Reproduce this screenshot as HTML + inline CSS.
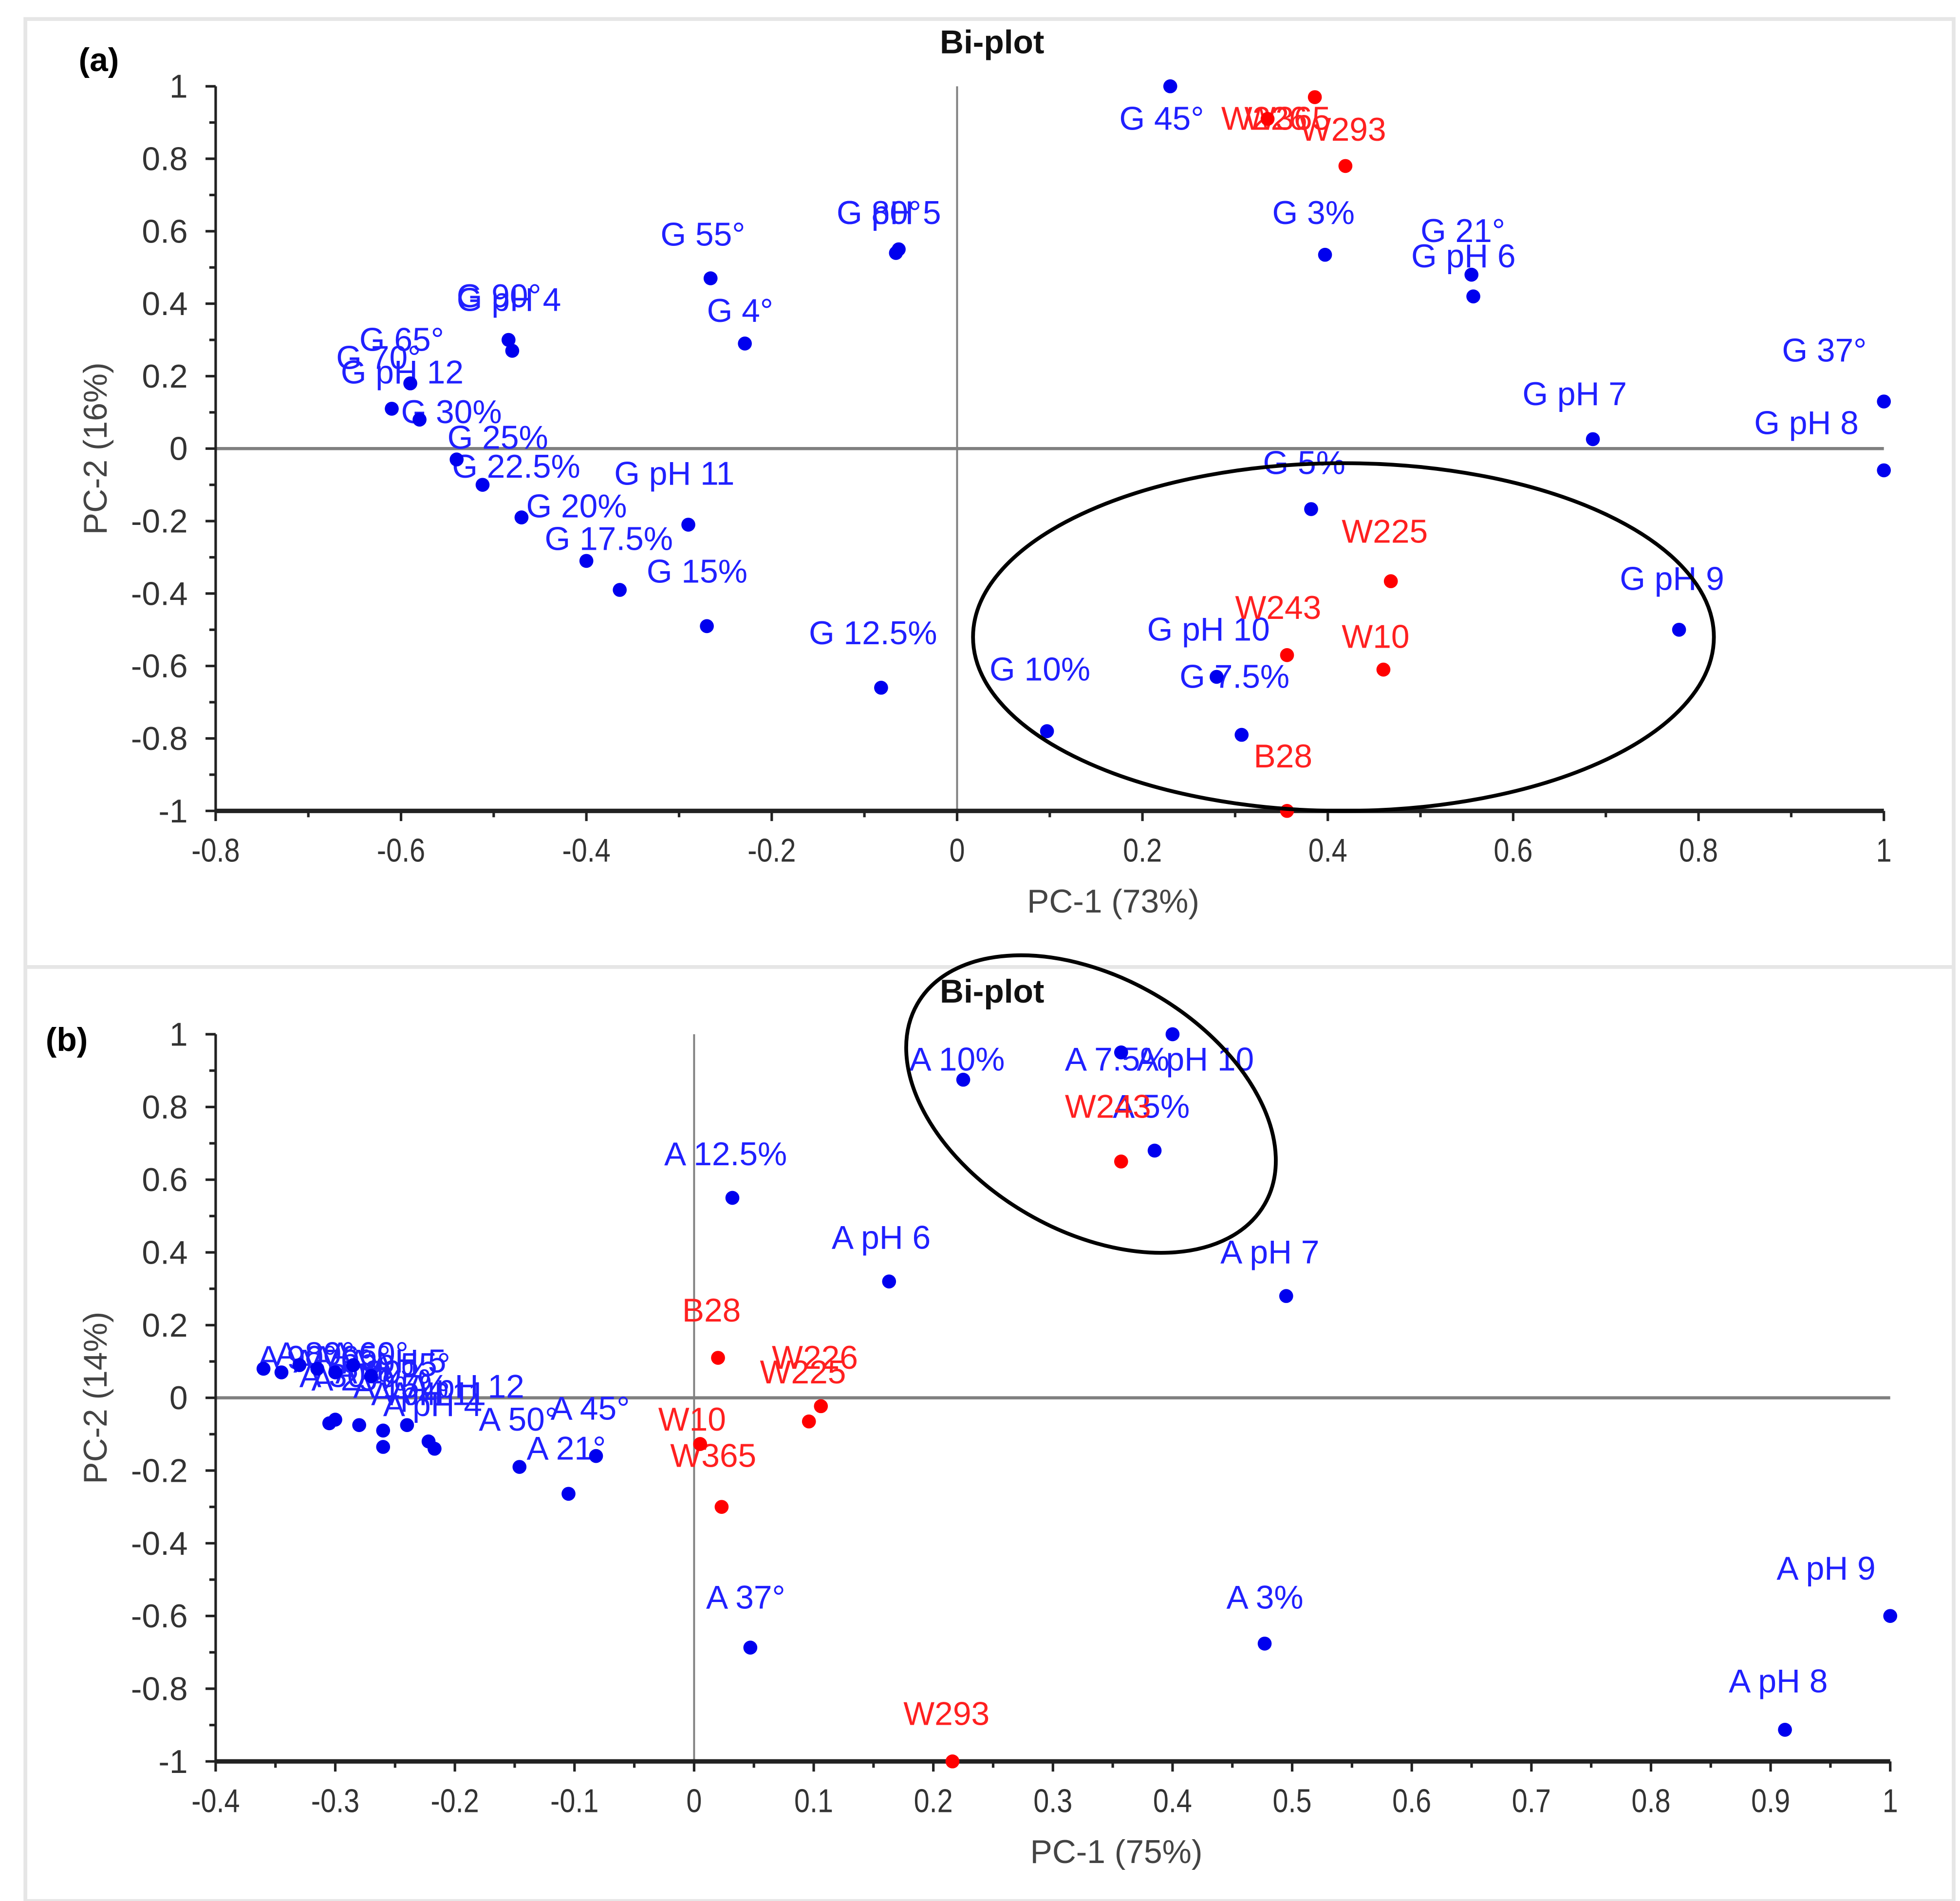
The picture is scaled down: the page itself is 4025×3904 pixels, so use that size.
<!DOCTYPE html>
<html><head><meta charset="utf-8"><style>
html,body{margin:0;padding:0;background:#fff;}
svg{display:block;}
text{font-family:"Liberation Sans",Arial,sans-serif;}
</style></head><body>
<svg id="fig" width="4025" height="3904" viewBox="0 0 1545 1498" preserveAspectRatio="none" xmlns="http://www.w3.org/2000/svg">
<rect x="0" y="0" width="1545" height="1498" fill="#fff"/>
<rect x="20" y="15" width="1520" height="1483" fill="none" stroke="#e6e6e6" stroke-width="3"/>
<line x1="20" y1="762" x2="1540" y2="762" stroke="#e6e6e6" stroke-width="3"/>
<g id="pa"></g>
<g id="pb"></g>
</svg>
<script>
// Panel (a) data
const aBlueX = [0.23,-0.063,-0.066,-0.266,-0.229,-0.484,-0.48,0.397,0.555,0.557,1.0,0.686,1.0,-0.61,-0.59,-0.58,-0.54,-0.512,-0.47,-0.29,-0.4,-0.364,-0.27,-0.082,0.382,0.779,0.28,0.307,0.097];
const aBlueY = [1.0,0.55,0.54,0.47,0.29,0.30,0.27,0.535,0.48,0.42,0.13,0.026,-0.06,0.11,0.18,0.08,-0.03,-0.1,-0.19,-0.21,-0.31,-0.39,-0.49,-0.66,-0.167,-0.5,-0.63,-0.79,-0.78];
const aRedX = [0.335,0.386,0.419,0.468,0.356,0.46,0.356];
const aRedY = [0.91,0.97,0.78,-0.366,-0.57,-0.61,-1.0];
const aBlueLabels = ["G 45°","G pH 5","G 80°","G 55°","G 4°","G 90°","G pH 4","G 3%","G 21°","G pH 6","G 37°","G pH 7","G pH 8","G 70°","G 65°","G pH 12","G 30%","G 25%","G 22.5%","G pH 11","G 20%","G 17.5%","G 15%","G 12.5%","G 5%","G pH 9","G pH 10","G 7.5%","G 10%"];
const aBlueLX = [0.175,-0.13,-0.13,-0.32,-0.27,-0.54,-0.54,0.34,0.50,0.49,0.89,0.61,0.86,-0.67,-0.645,-0.665,-0.6,-0.55,-0.545,-0.37,-0.465,-0.445,-0.335,-0.16,0.33,0.715,0.205,0.24,0.035];
const aBlueLY = [0.88,0.62,0.62,0.56,0.35,0.39,0.38,0.62,0.57,0.50,0.24,0.12,0.04,0.22,0.27,0.18,0.07,0.0,-0.08,-0.1,-0.19,-0.28,-0.37,-0.54,-0.07,-0.39,-0.53,-0.66,-0.64];
const aRedLabels = ["W226","W365","W293","W225","W243","W10","B28"];
const aRedLX = [0.285,0.31,0.37,0.415,0.3,0.415,0.32];
const aRedLY = [0.88,0.88,0.85,-0.26,-0.47,-0.55,-0.88];
const aXTicks = [-0.8,-0.6,-0.4,-0.2,0,0.2,0.4,0.6,0.8,1];
const aYTicks = [-1,-0.8,-0.6,-0.4,-0.2,0,0.2,0.4,0.6,0.8,1];
const aXTickLabels = ["-0.8","-0.6","-0.4","-0.2","0","0.2","0.4","0.6","0.8","1"];
const aYTickLabels = ["-1","-0.8","-0.6","-0.4","-0.2","0","0.2","0.4","0.6","0.8","1"];

// Panel (b) data
const bBlueX = [0.4,0.357,0.225,0.385,0.032,0.163,0.495,1.0,0.912,0.477,0.047,-0.105,-0.146,-0.082,-0.36,-0.345,-0.33,-0.315,-0.3,-0.285,-0.27,-0.3,-0.305,-0.28,-0.26,-0.26,-0.24,-0.222,-0.217];
const bBlueY = [1.0,0.95,0.875,0.68,0.55,0.32,0.28,-0.6,-0.913,-0.676,-0.687,-0.264,-0.19,-0.16,0.08,0.07,0.09,0.08,0.07,0.09,0.06,-0.06,-0.07,-0.075,-0.09,-0.135,-0.075,-0.12,-0.14];
const bRedX = [0.02,0.106,0.096,0.005,0.023,0.216,0.357];
const bRedY = [0.11,-0.023,-0.065,-0.127,-0.3,-1.0,0.65];
const bBlueLabels = ["A pH 10","A 7.5%","A 10%","A 5%","A 12.5%","A pH 6","A pH 7","A pH 9","A pH 8","A 3%","A 37°","A 21°","A 50°","A 45°","A 90°","A 80°","A 70°","A 65°","A 60°","A pH 5","A 55°","A 30%","A 25%","A 20%","A 15%","A pH 11","A pH 4","A 4°","A pH 12"];
const bBlueLX = [0.37,0.31,0.18,0.35,-0.025,0.115,0.44,0.905,0.865,0.445,0.01,-0.14,-0.18,-0.12,-0.365,-0.35,-0.335,-0.32,-0.305,-0.29,-0.27,-0.33,-0.32,-0.3,-0.285,-0.27,-0.26,-0.255,-0.24];
const bBlueLY = [0.9,0.9,0.9,0.77,0.64,0.41,0.37,-0.5,-0.81,-0.58,-0.58,-0.17,-0.09,-0.06,0.08,0.09,0.07,0.08,0.09,0.07,0.06,0.03,0.02,0.04,0.0,-0.02,-0.05,-0.02,0.0];
const bRedLabels = ["B28","W226","W225","W10","W365","W293","W243"];
const bRedLX = [-0.01,0.065,0.055,-0.03,-0.02,0.175,0.31];
const bRedLY = [0.21,0.08,0.04,-0.09,-0.19,-0.9,0.77];
const bXTicks = [-0.4,-0.3,-0.2,-0.1,0,0.1,0.2,0.3,0.4,0.5,0.6,0.7,0.8,0.9,1];
const bYTicks = [-1,-0.8,-0.6,-0.4,-0.2,0,0.2,0.4,0.6,0.8,1];
const bXTickLabels = ["-0.4","-0.3","-0.2","-0.1","0","0.1","0.2","0.3","0.4","0.5","0.6","0.7","0.8","0.9","1"];
const bYTickLabels = ["-1","-0.8","-0.6","-0.4","-0.2","0","0.2","0.4","0.6","0.8","1"];

const NS = "http://www.w3.org/2000/svg";
function mk(parent, tag, attrs, txt){
  const e = document.createElementNS(NS, tag);
  for (const k in attrs) e.setAttribute(k, attrs[k]);
  if (txt !== undefined) e.textContent = txt;
  parent.appendChild(e);
  return e;
}

function panel(g, cfg){
  const sx = v => cfg.x0 + (v - cfg.xmin) / (cfg.xmax - cfg.xmin) * (cfg.x1 - cfg.x0);
  const sy = v => cfg.y1 - (v - cfg.ymin) / (cfg.ymax - cfg.ymin) * (cfg.y1 - cfg.y0);
  // zero lines
  let e = mk(g, "line", {x1:sx(0), y1:cfg.y0, x2:sx(0), y2:cfg.y1, stroke:"#808080", "stroke-width":1.5});
  
  
  e = mk(g, "line", {x1:cfg.x0, y1:sy(0), x2:cfg.x1, y2:sy(0), stroke:"#808080", "stroke-width":2.5});
  
  
  // axes
  e = mk(g, "line", {x1:cfg.x0, y1:cfg.y0, x2:cfg.x0, y2:cfg.y1, stroke:"#222", "stroke-width":2});
  
  
  e = mk(g, "line", {x1:cfg.x0, y1:cfg.y1, x2:cfg.x1, y2:cfg.y1, stroke:"#222", "stroke-width":3.5});
  
  
  cfg.xt.forEach((v,i) => {
    const t = mk(g, "line", {x1:sx(v), y1:cfg.y1, x2:sx(v), y2:cfg.y1+8, stroke:"#222","stroke-width":2});
    
    
    if (i < cfg.xt.length-1){
      const m = mk(g, "line", {x1:sx((v+cfg.xt[i+1])/2), y1:cfg.y1, x2:sx((v+cfg.xt[i+1])/2), y2:cfg.y1+5, stroke:"#222","stroke-width":2});
      
      
    }
    const l = mk(g, "text", {x:sx(v), y:cfg.y1+40, "text-anchor":"middle", "font-size":26, fill:"#333", transform:`translate(${sx(v)} ${cfg.y1+40}) scale(0.85 1) translate(${-sx(v)} ${-(cfg.y1+40)})`}, cfg.xl[i]);
    
    
  });
  cfg.yt.forEach((v,i) => {
    const t = mk(g, "line", {x1:cfg.x0-8, y1:sy(v), x2:cfg.x0, y2:sy(v), stroke:"#222","stroke-width":2});
    
    
    if (i < cfg.yt.length-1){
      const m = mk(g, "line", {x1:cfg.x0-5, y1:sy((v+cfg.yt[i+1])/2), x2:cfg.x0, y2:sy((v+cfg.yt[i+1])/2), stroke:"#222","stroke-width":2});
      
      
    }
    const l = mk(g, "text", {x:cfg.x0-22, y:sy(v)+9, "text-anchor":"end", "font-size":26, fill:"#333"}, cfg.yl[i]);
    
    
  });
  // titles
  e = mk(g, "text", {x:(cfg.x0+cfg.x1)/2+50, y:cfg.y1+80, "text-anchor":"middle","font-size":26, fill:"#444"}, cfg.xtitle);
  
  
  const ym = (cfg.y0+cfg.y1)/2;
  e = mk(g, "text", {x:0, y:0, "text-anchor":"middle","font-size":26, fill:"#444", transform:`translate(84 ${ym}) rotate(-90)`}, cfg.ytitle);
  
  
  e = mk(g, "text", {x:782, y:cfg.titleY, "text-anchor":"middle","font-size":26,"font-weight":"bold", fill:"#111"}, "Bi-plot");
  
  
  e = mk(g, "text", {x:cfg.tagX, y:cfg.tagY, "font-size":26,"font-weight":"bold", fill:"#000"}, cfg.tag);
  
  
  // labels
  cfg.bl.forEach((s,i) => {
    const l = mk(g, "text", {x:sx(cfg.blx[i]), y:sy(cfg.bly[i]), "font-size":26, fill:"#2020ff"}, s);
    
    
  });
  cfg.rl.forEach((s,i) => {
    const l = mk(g, "text", {x:sx(cfg.rlx[i]), y:sy(cfg.rly[i]), "font-size":26, fill:"#ff2020"}, s);
    
    
  });
  // points
  cfg.bx.forEach((v,i) => {
    const c = mk(g, "circle", {cx:sx(v), cy:sy(cfg.by[i]), r:5.5, fill:"#0000ee"});
    
    
  });
  cfg.rx.forEach((v,i) => {
    const c = mk(g, "circle", {cx:sx(v), cy:sy(cfg.ry[i]), r:5.5, fill:"#ff0000"});
    
    
  });
  // ellipse
  const el = mk(g, "ellipse", cfg.ell);
  
  
}

panel(document.getElementById('pa'), {
  x0:170, x1:1485, y0:68, y1:639, xmin:-0.8, xmax:1, ymin:-1, ymax:1,
  xt:aXTicks, yt:aYTicks, xl:aXTickLabels, yl:aYTickLabels,
  xtitle:"PC-1 (73%)", ytitle:"PC-2 (16%)", titleY:42, tag:"(a)", tagX:62, tagY:56,
  bx:aBlueX, by:aBlueY, rx:aRedX, ry:aRedY,
  bl:aBlueLabels, blx:aBlueLX, bly:aBlueLY, rl:aRedLabels, rlx:aRedLX, rly:aRedLY,
  ell:{cx:1059, cy:502, rx:292, ry:137, fill:"none", stroke:"#000", "stroke-width":3}
});
panel(document.getElementById('pb'), {
  x0:170, x1:1490, y0:815, y1:1388, xmin:-0.4, xmax:1, ymin:-1, ymax:1,
  xt:bXTicks, yt:bYTicks, xl:bXTickLabels, yl:bYTickLabels,
  xtitle:"PC-1 (75%)", ytitle:"PC-2 (14%)", titleY:790, tag:"(b)", tagX:36, tagY:828,
  bx:bBlueX, by:bBlueY, rx:bRedX, ry:bRedY,
  bl:bBlueLabels, blx:bBlueLX, bly:bBlueLY, rl:bRedLabels, rlx:bRedLX, rly:bRedLY,
  ell:{cx:860, cy:870, rx:158, ry:100, transform:"rotate(30 860 870)", fill:"none", stroke:"#000", "stroke-width":3}
});
</script>
</body></html>
